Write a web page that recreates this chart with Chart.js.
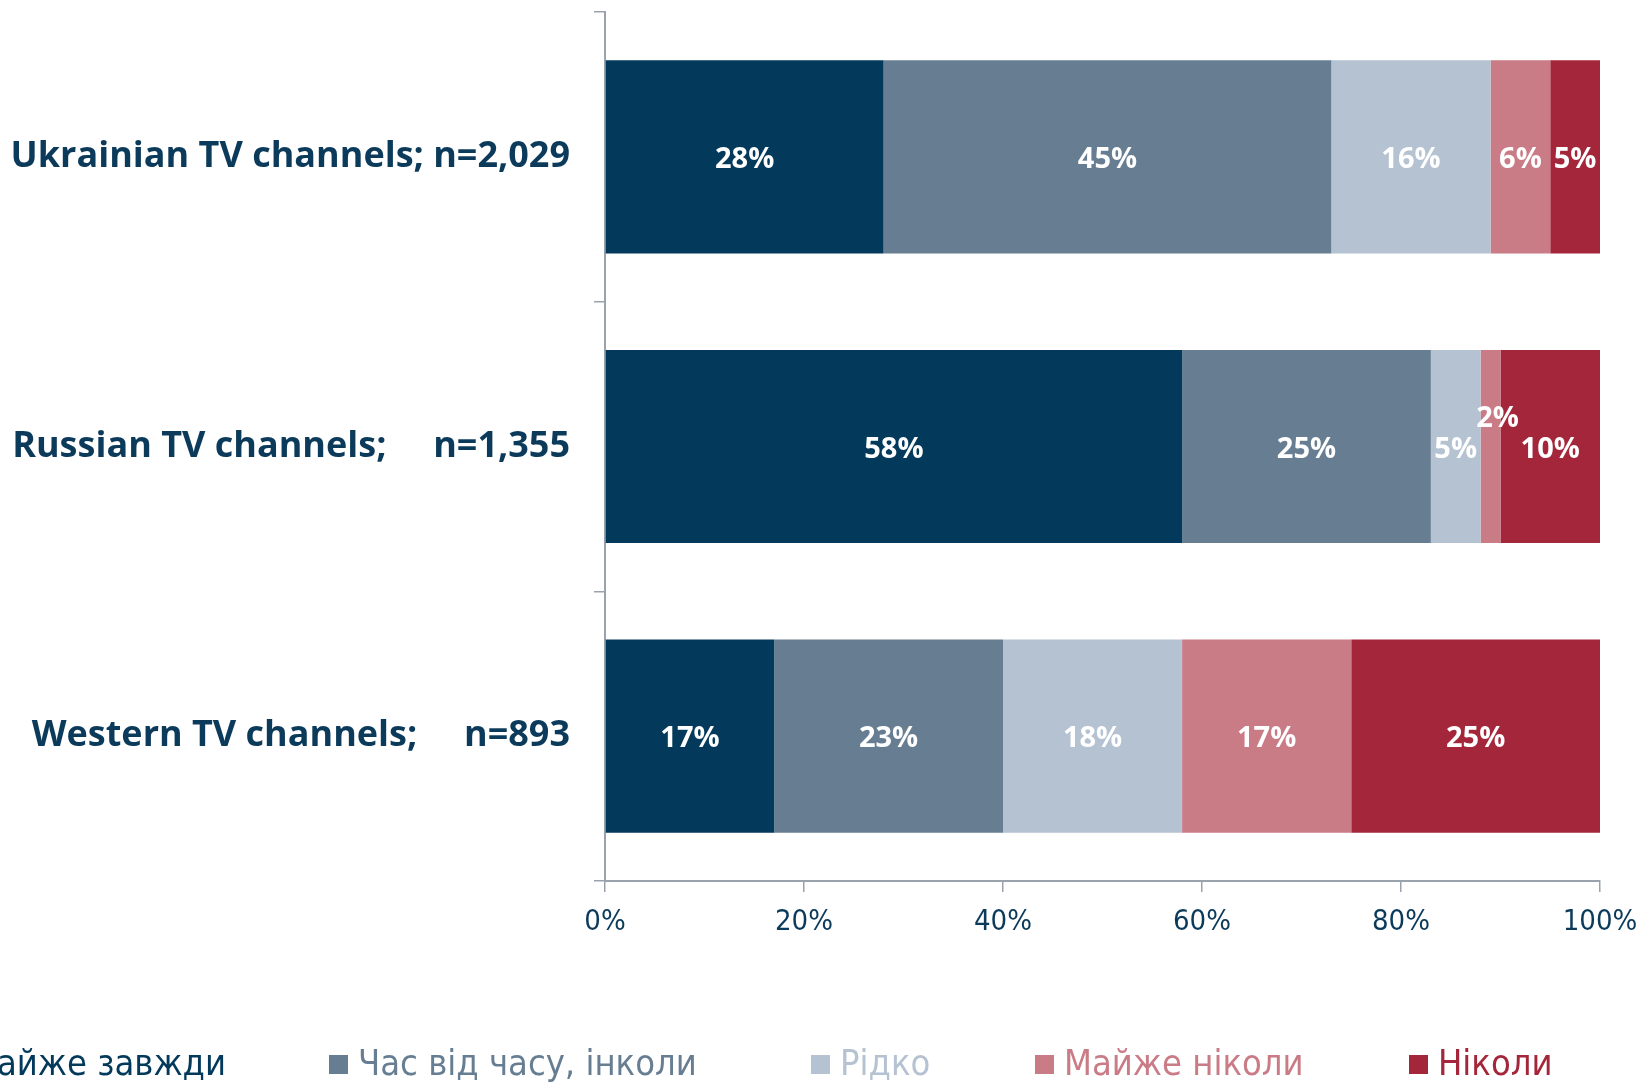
<!DOCTYPE html>
<html>
<head>
<meta charset="utf-8">
<script src="https://cdn.jsdelivr.net/npm/chart.js@4.4.1/dist/chart.umd.min.js"></script>
<style>
  html, body { margin: 0; padding: 0; background: #fff; overflow: hidden; }
  #wrap { position: absolute; left: 0; top: 0; width: 1641px; height: 1082px; }
  #legend { position: absolute; left: 0; top: 0; width: 1641px; height: 1082px; pointer-events: none; }
  .item { position: absolute; top: 1040px; white-space: nowrap; font-family: "DejaVu Sans Condensed", sans-serif; font-size: 36px; line-height: 46px; }
  .item .sw { display: inline-block; width: 19px; height: 19px; margin-right: 10px; vertical-align: 1px; }
</style>
</head>
<body>
<div id="wrap"><canvas id="barChart" width="1641" height="1082"></canvas></div>
<div id="legend"></div>
<script>
var categories = ['Ukrainian TV channels; n=2,029', 'Russian TV channels;     n=1,355', 'Western TV channels;     n=893'];
var seriesNames = ['Майже завжди', 'Час від часу, інколи', 'Рідко', 'Майже ніколи', 'Ніколи'];
var almostAlways = [28, 58, 17];
var sometimes = [45, 25, 23];
var rarely = [16, 5, 18];
var almostNever = [6, 2, 17];
var never = [5, 10, 25];
var colors = ['#03395a', '#677e92', '#b5c2d2', '#c97b86', '#a3263a'];
var tickLabels = ['0%', '20%', '40%', '60%', '80%', '100%'];

var seriesValues = [almostAlways, sometimes, rarely, almostNever, never];

var datasets = seriesValues.map((vals, i) => ({
    label: seriesNames[i],
    data: vals,
    backgroundColor: colors[i],
    borderWidth: 0,
    barPercentage: 0.667,
    categoryPercentage: 1
}));

// white % labels in the middle of every segment
var segmentLabels = {
    id: 'segmentLabels',
    afterDatasetsDraw(chart) {
        let ctx = chart.ctx;
        ctx.save();
        ctx.fillStyle = '#ffffff';
        ctx.font = 'bold 29px "Open Sans", sans-serif';
        ctx.textAlign = 'center';
        ctx.textBaseline = 'middle';
        chart.data.datasets.forEach((ds, i) => {
            chart.getDatasetMeta(i).data.forEach((bar, j) => {
                let x = (bar.x + bar.base) / 2;
                let y = bar.y + 3;
                if (Math.abs(bar.x - bar.base) < 30) {
                    x += 7;
                    y -= 31;
                }
                ctx.fillText(ds.data[j] + '%', x, y);
            });
        });
        ctx.restore();
    }
};

var ctx = document.getElementById('barChart').getContext('2d');
var barChart = new Chart(ctx, {
    type: 'bar',
    data: { labels: categories, datasets: datasets },
    options: {
        indexAxis: 'y',
        responsive: false,
        animation: false,
        layout: { padding: { top: 12, right: 41, left: 0, bottom: 141 } },
        plugins: { legend: { display: false }, tooltip: { enabled: false } },
        scales: {
            x: {
                stacked: true,
                min: 0,
                max: 100,
                afterFit(scale) {
                    scale.height = 60;
                    scale.paddingLeft = 0;
                    scale.paddingRight = 0;
                },
                afterBuildTicks(scale) {
                    scale.ticks = tickLabels.map(t => ({ value: parseFloat(t) }));
                },
                border: { color: '#9aa3ad', width: 2 },
                grid: { drawOnChartArea: false, color: '#9aa3ad', lineWidth: 1.5, tickLength: 11 },
                ticks: {
                    padding: 13,
                    color: '#0b3a5a',
                    font: { family: '"DejaVu Sans Condensed", sans-serif', size: 29 },
                    callback: (v, i) => tickLabels[i]
                }
            },
            y: {
                stacked: true,
                afterFit(scale) {
                    scale.width = 605;
                    scale.paddingTop = 0;
                    scale.paddingBottom = 0;
                },
                border: { color: '#9aa3ad', width: 2 },
                grid: { drawOnChartArea: false, offset: true, color: '#9aa3ad', lineWidth: 1.5, tickLength: 11 },
                ticks: {
                    padding: 24,
                    color: '#0b3a5a',
                    font: { family: '"Open Sans", sans-serif', size: 36, weight: 'bold' }
                }
            }
        }
    },
    plugins: [segmentLabels]
});

// legend, first entry runs off the left edge like in the source
var legendLefts = [null, 329, 811, 1035, 1409];
var legend = document.getElementById('legend');
seriesNames.forEach((name, i) => {
    let el = document.createElement('div');
    el.className = 'item';
    el.style.color = colors[i];
    if (legendLefts[i] === null) el.style.right = (1641 - 226) + 'px';
    else el.style.left = legendLefts[i] + 'px';
    el.innerHTML = '<span class="sw" style="background:' + colors[i] + '"></span>' + name;
    legend.appendChild(el);
});
</script>
</body>
</html>
